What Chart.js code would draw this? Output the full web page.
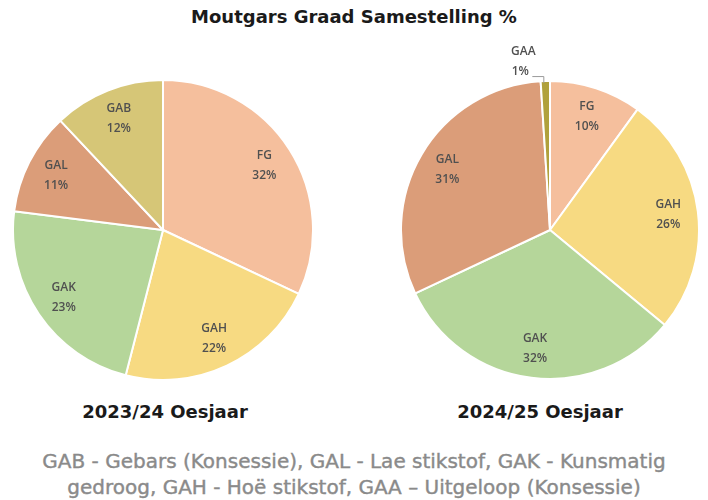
<!DOCTYPE html>
<html>
<head>
<meta charset="utf-8">
<script src="https://cdn.jsdelivr.net/npm/chart.js@4.4.1/dist/chart.umd.min.js"></script>
<style>
  html, body { margin: 0; padding: 0; background: #ffffff; }
  #wrap { position: relative; width: 708px; height: 500px; overflow: hidden; background: #fff; }
  .abs { position: absolute; }
  #title { left: 0; width: 708px; top: 6px; text-align: center; font-family: "DejaVu Sans", sans-serif; font-weight: bold; font-size: 18px; color: #1a1a1a; }
  .sub { top: 401px; width: 260px; text-align: center; font-family: "DejaVu Sans", sans-serif; font-weight: bold; font-size: 18px; color: #1a1a1a; }
  #foot { left: 0; width: 708px; top: 448px; text-align: center; font-family: "DejaVu Sans", sans-serif; font-size: 20px; line-height: 26px; color: #8a8a8a; -webkit-text-stroke: 0.4px #8a8a8a; }
</style>
</head>
<body>
<div id="wrap">
  <div id="title" class="abs">Moutgars Graad Samestelling %</div>
  <canvas id="c1" class="abs" width="302" height="302" style="left:12px;top:79px;"></canvas>
  <canvas id="c2" class="abs" width="300" height="340" style="left:400px;top:40px;"></canvas>
  <div class="abs sub" style="left:35px;">2023/24 Oesjaar</div>
  <div class="abs sub" style="left:410px;">2024/25 Oesjaar</div>
  <div id="foot" class="abs">GAB - Gebars (Konsessie), GAL - Lae stikstof, GAK - Kunsmatig<br>gedroog, GAH - Hoë stikstof, GAA – Uitgeloop (Konsessie)</div>
</div>
<script>
// ---- data ----
const labels2324 = ['FG', 'GAH', 'GAK', 'GAL', 'GAB'];
const values2324 = [32, 22, 23, 11, 12];
const labels2425 = ['FG', 'GAH', 'GAK', 'GAL', 'GAA'];
const values2425 = [10, 26, 32, 31, 1];

const colorMap = {
  FG: '#f5bf9d',
  GAH: '#f7da82',
  GAK: '#b5d69a',
  GAL: '#db9d79',
  GAB: '#d6c677',
  GAA: '#b0a13c'
};

const sliceLabelPlugin = {
  id: 'sliceLabels',
  afterDatasetsDraw(chart) {
    const ctx = chart.ctx;
    const meta = chart.getDatasetMeta(0);
    const data = chart.data.datasets[0].data;
    const total = data.reduce((a, b) => a + b, 0);
    ctx.save();
    ctx.font = '600 12px "Open Sans", sans-serif';
    ctx.fillStyle = '#505050';
    ctx.textBaseline = 'middle';
    meta.data.forEach((arc, i) => {
      const p = arc.getProps(['x', 'y', 'startAngle', 'endAngle', 'outerRadius'], true);
      const mid = (p.startAngle + p.endAngle) / 2;
      const name = chart.data.labels[i];
      const pct = Math.round(data[i] / total * 100) + '%';
      if (data[i] / total < 0.03) {
        // small slice: label outside, above-left with leader line
        const ex = p.x + Math.cos(mid) * p.outerRadius;
        const ey = p.y + Math.sin(mid) * p.outerRadius;
        const lx = ex - 22;
        const ly = ey - 9;
        ctx.textAlign = 'center';
        ctx.fillText(name, lx, ly - 20);
        ctx.fillText(pct, lx - 3, ly);
        ctx.strokeStyle = '#9a9a9a';
        ctx.lineWidth = 1;
        ctx.beginPath();
        ctx.moveTo(lx + 9, ly + 4.5);
        ctx.lineTo(ex - 1.5, ly + 4.5);
        ctx.lineTo(ex - 1.5, ey + 2);
        ctx.stroke();
      } else {
        const r = p.outerRadius * 0.8;
        const cx = p.x + Math.cos(mid) * r;
        const cy = p.y + Math.sin(mid) * r;
        ctx.textAlign = 'center';
        ctx.fillText(name, cx, cy - 10);
        ctx.fillText(pct, cx, cy + 10);
      }
    });
    ctx.restore();
  }
};

function makePie(id, labels, values, padTop) {
  return new Chart(document.getElementById(id), {
    type: 'pie',
    data: {
      labels: labels,
      datasets: [{
        data: values,
        backgroundColor: labels.map(l => colorMap[l]),
        borderColor: '#ffffff',
        borderWidth: 2
      }]
    },
    options: {
      responsive: false,
      animation: false,
      layout: { padding: { top: padTop, left: 0, right: 0, bottom: 0 } },
      plugins: {
        legend: { display: false },
        tooltip: { enabled: false },
        title: { display: false }
      }
    },
    plugins: [sliceLabelPlugin]
  });
}

makePie('c1', labels2324, values2324, 0);
makePie('c2', labels2425, values2425, 40);
</script>
</body>
</html>
